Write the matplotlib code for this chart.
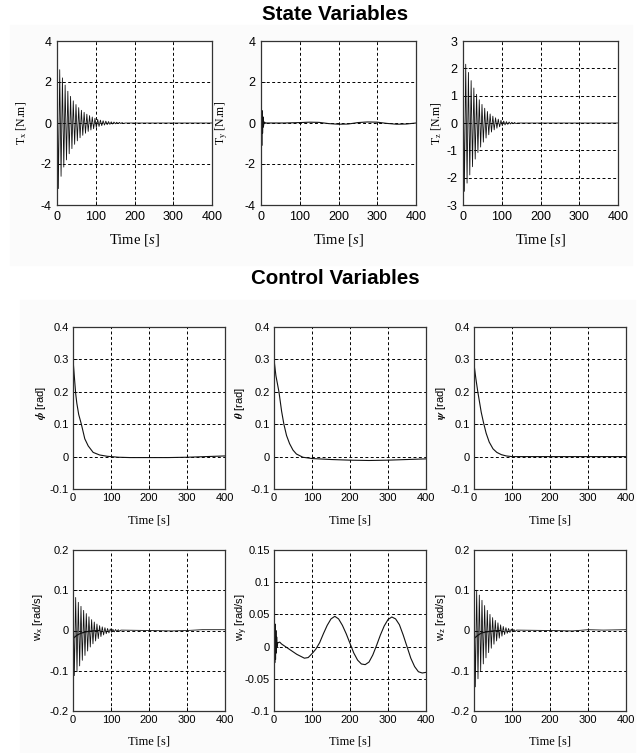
import numpy as np
import matplotlib
matplotlib.use("Agg")
import matplotlib.pyplot as plt
from matplotlib.patches import Rectangle

plt.rcParams['font.family'] = ['Liberation Sans', 'DejaVu Sans']
plt.rcParams['mathtext.fontset'] = 'custom'
plt.rcParams['mathtext.rm'] = 'Liberation Serif'
plt.rcParams['mathtext.it'] = 'Liberation Serif:italic'
plt.rcParams['mathtext.bf'] = 'Liberation Serif:bold'

# ---- data ----
time_ticks = [0, 100, 200, 300, 400]
time_labels = ['0', '100', '200', '300', '400']

# state variables: oscillation peaks (upper every 7 s from t=0, lower 3.5 s later)
tx_up = [2.9, 2.6, 2.2, 1.85, 1.55, 1.3, 1.08, 0.9, 0.75, 0.62, 0.52, 0.43, 0.36,
         0.29, 0.23, 0.18, 0.14, 0.11, 0.09, 0.07, 0.055, 0.045, 0.035, 0.03, 0.02]
tx_lo = [-3.2, -2.6, -2.15, -1.8, -1.5, -1.25, -1.04, -0.87, -0.72, -0.6, -0.5, -0.41, -0.34,
         -0.28, -0.22, -0.17, -0.13, -0.1, -0.08, -0.065, -0.05, -0.04, -0.03, -0.025, -0.02]
tx_tail_t = [176, 250, 400]
tx_tail = [0.0, 0.0, 0.0]

ty_t = [0, 1, 2, 3, 4, 5, 6, 8, 12, 30, 60, 100, 125, 150, 175, 200, 225,
        250, 275, 300, 325, 350, 375, 400]
ty = [0.0, 0.8, -1.1, 0.6, -0.5, 0.3, -0.2, 0.05, 0.0, 0.0, 0.0, 0.02, 0.04, 0.03,
      -0.03, -0.06, -0.05, 0.02, 0.05, 0.04, -0.02, -0.06, -0.05, 0.0]

tz_up = [2.4, 2.15, 1.85, 1.55, 1.28, 1.05, 0.85, 0.68, 0.54, 0.42, 0.33, 0.25,
         0.19, 0.14, 0.1, 0.07, 0.05, 0.035, 0.025, 0.02]
tz_lo = [-2.5, -2.2, -1.9, -1.6, -1.32, -1.08, -0.88, -0.7, -0.55, -0.43, -0.33, -0.25,
         -0.19, -0.14, -0.1, -0.07, -0.05, -0.035, -0.025, -0.02]
tz_tail_t = [141, 250, 400]
tz_tail = [0.0, 0.0, 0.0]

# control variables: attitude angles
phi_t = [0, 2, 4, 7, 10, 15, 22, 31, 40, 53, 70, 90, 120, 150, 200, 250, 300, 350, 400]
phi = [0.3, 0.27, 0.24, 0.195, 0.165, 0.13, 0.1, 0.055, 0.033, 0.013, 0.005, 0.001,
       -0.002, -0.003, -0.003, -0.003, -0.002, 0.0, 0.002]
theta_t = [0, 5, 13, 20, 26, 33, 41, 50, 59, 76, 100, 150, 200, 250, 300, 350, 400]
theta = [0.3, 0.25, 0.2, 0.14, 0.1, 0.065, 0.04, 0.02, 0.008, -0.002, -0.006, -0.009,
         -0.011, -0.012, -0.011, -0.009, -0.007]
psi_t = [0, 5, 10, 19, 25, 32, 40, 50, 60, 72, 85, 100, 200, 300, 400]
psi = [0.285, 0.24, 0.2, 0.137, 0.105, 0.072, 0.045, 0.024, 0.013, 0.006, 0.002,
       0.0, 0.0, 0.0, 0.0]

# angular rates
wx_up = [0.093, 0.082, 0.07, 0.06, 0.05, 0.042, 0.034, 0.027, 0.021, 0.016, 0.012,
         0.009, 0.007, 0.005, 0.004, 0.003, 0.0025, 0.002]
wx_lo = [-0.112, -0.1, -0.088, -0.074, -0.062, -0.051, -0.041, -0.033, -0.026, -0.02,
         -0.015, -0.011, -0.008, -0.006, -0.0045, -0.0035, -0.0025, -0.002]
wx_mid_t = [0, 10, 20, 35, 50, 70]
wx_mid = [-0.02, -0.012, -0.007, -0.003, -0.001, 0.0]
wx_tail_t = [126, 200, 260, 300, 340, 400]
wx_tail = [0.001, 0.0, -0.001, 0.0, 0.002, 0.002]

wy_t = [0, 1, 2, 3, 4, 5, 6, 7, 8, 10, 15, 20, 30, 40, 50, 60, 70, 80, 90, 100,
        110, 120, 130, 140, 150, 160, 170, 180, 190, 200, 210, 220, 230, 240, 250,
        260, 270, 280, 290, 300, 310, 320, 330, 340, 350, 360, 370, 380, 390, 400]
wy = [0.0, 0.042, -0.025, 0.035, -0.02, 0.025, -0.01, 0.015, 0.0, 0.006, 0.007, 0.004,
      0.0, -0.004, -0.008, -0.012, -0.015, -0.018, -0.017, -0.011, -0.004, 0.006, 0.02,
      0.033, 0.043, 0.047, 0.043, 0.033, 0.02, 0.005, -0.01, -0.021, -0.027, -0.028,
      -0.024, -0.013, 0.002, 0.018, 0.032, 0.042, 0.046, 0.043, 0.034, 0.018, 0.0,
      -0.018, -0.031, -0.039, -0.041, -0.04]

wz_up = [0.11, 0.1, 0.088, 0.075, 0.062, 0.05, 0.04, 0.032, 0.025, 0.019, 0.014,
         0.01, 0.007, 0.005, 0.0035, 0.0025]
wz_lo = [-0.14, -0.12, -0.1, -0.083, -0.068, -0.055, -0.044, -0.034, -0.026, -0.019,
         -0.014, -0.01, -0.007, -0.005, -0.0035, -0.0025]
wz_mid_t = [0, 10, 20, 35, 50, 70]
wz_mid = [-0.02, -0.012, -0.006, -0.003, -0.001, 0.0]
wz_tail_t = [112, 200, 260, 300, 340, 400]
wz_tail = [0.001, 0.0, -0.001, 0.002, 0.001, 0.002]


def zigzag(up, lo, step=3.5):
    v = np.empty(len(up) + len(lo))
    v[0::2] = up
    v[1::2] = lo
    return np.arange(len(v)) * step, v


fig = plt.figure(figsize=(6.4, 7.53), dpi=100)
W, H = 640, 753
fig.patches.append(Rectangle((10 / W, 1 - 265 / H), 622 / W, 240 / H,
                             transform=fig.transFigure, color='#fbfbfb', zorder=-10))
fig.patches.append(Rectangle((20 / W, 0), 615 / W, 1 - 300 / H,
                             transform=fig.transFigure, color='#fbfbfb', zorder=-10))


def make_ax(left, top, w, h):
    return fig.add_axes([left / W, 1 - (top + h) / H, w / W, h / H])


def style(ax, yticks, ylabels, tick_fs, tick_font, pad):
    ax.set_xlim(0, 400)
    ax.set_ylim(yticks[0], yticks[-1])
    ax.set_xticks(time_ticks)
    ax.set_xticklabels(time_labels, fontsize=tick_fs, family=tick_font)
    ax.set_yticks(yticks)
    ax.set_yticklabels(ylabels, fontsize=tick_fs, family=tick_font)
    ax.tick_params(direction='in', length=3, width=0.6, pad=pad)
    ax.grid(True, color='black', linestyle=(0, (3, 2.5)), linewidth=0.7)
    for s in ax.spines.values():
        s.set_linewidth(0.9)
        s.set_color('#333333')
    ax.set_facecolor('white')


lc = '#111111'

# ---- State Variables ----
fig.text(335 / W, 1 - 14 / H, 'State Variables', ha='center', va='center',
         fontsize=14.8, fontweight='bold')

top_lefts = [57, 261, 463]
t_specs = [
    ([-4, -2, 0, 2, 4], ['-4', '-2', '0', '2', '4'], r'$\mathregular{T_x}$ [N.m]', -0.18),
    ([-4, -2, 0, 2, 4], ['-4', '-2', '0', '2', '4'], r'$\mathregular{T_y}$ [N.m]', -0.2),
    ([-3, -2, -1, 0, 1, 2, 3], ['-3', '-2', '-1', '0', '1', '2', '3'], r'$\mathregular{T_z}$ [N.m]', -0.12),
]
top_axes = []
for left, (yt, yl, lab, lx) in zip(top_lefts, t_specs):
    ax = make_ax(left, 41, 155, 164)
    style(ax, yt, yl, 9, 'Liberation Sans', 4)
    ax.set_ylabel(lab, family='Liberation Serif', fontsize=8.5)
    ax.yaxis.set_label_coords(lx, 0.5)
    ax.set_xlabel(r'Time [$\mathit{s}$]', family='Liberation Serif', fontsize=10.5)
    ax.xaxis.set_label_coords(0.5, -0.165)
    top_axes.append(ax)

t, v = zigzag(tx_up, tx_lo)
top_axes[0].plot(np.r_[t, tx_tail_t], np.r_[v, tx_tail], color=lc, lw=0.6)
top_axes[1].plot(ty_t, ty, color=lc, lw=0.8)
t, v = zigzag(tz_up, tz_lo)
top_axes[2].plot(np.r_[t, tz_tail_t], np.r_[v, tz_tail], color=lc, lw=0.6)

# ---- Control Variables ----
fig.text(335 / W, 1 - 278 / H, 'Control Variables', ha='center', va='center',
         fontsize=14.8, fontweight='bold')

ang_ticks = [-0.1, 0, 0.1, 0.2, 0.3, 0.4]
ang_labels = ['-0.1', '0', '0.1', '0.2', '0.3', '0.4']
ang_data = [(phi_t, phi, r'$\boldsymbol{\phi}$ [rad]', -0.165),
            (theta_t, theta, r'$\boldsymbol{\theta}$ [rad]', -0.178),
            (psi_t, psi, r'$\boldsymbol{\psi}$ [rad]', -0.171)]
mid_lefts = [73, 274, 474]
for left, (xt, yv, lab, lx) in zip(mid_lefts, ang_data):
    ax = make_ax(left, 327, 152, 162)
    style(ax, ang_ticks, ang_labels, 8, 'Liberation Sans', 3)
    ax.plot(xt, yv, color=lc, lw=0.8)
    ax.set_ylabel(lab, fontsize=8, math_fontfamily='stix')
    ax.yaxis.set_label_coords(lx, 0.53)
    ax.set_xlabel('Time [s]', family='Liberation Serif', fontsize=9)
    ax.xaxis.set_label_coords(0.5, -0.16)

rate_ticks = [-0.2, -0.1, 0, 0.1, 0.2]
rate_labels = ['-0.2', '-0.1', '0', '0.1', '0.2']
wy_ticks = [-0.1, -0.05, 0, 0.05, 0.1, 0.15]
wy_labels = ['-0.1', '-0.05', '0', '0.05', '0.1', '0.15']

bot_specs = [(rate_ticks, rate_labels, r'$\mathregular{w_x}$ [rad/s]', -0.184),
             (wy_ticks, wy_labels, r'$\mathregular{w_y}$ [rad/s]', -0.158),
             (rate_ticks, rate_labels, r'$\mathregular{w_z}$ [rad/s]', -0.171)]
bot_axes = []
for left, (yt, yl, lab, lx) in zip(mid_lefts, bot_specs):
    ax = make_ax(left, 550, 152, 161)
    style(ax, yt, yl, 8, 'Liberation Sans', 3)
    ax.set_ylabel(lab, fontsize=8)
    ax.yaxis.set_label_coords(lx, 0.58)
    ax.set_xlabel('Time [s]', family='Liberation Serif', fontsize=9)
    ax.xaxis.set_label_coords(0.5, -0.155)
    bot_axes.append(ax)

t, v = zigzag(wx_up, wx_lo)
bot_axes[0].plot(np.r_[t, wx_tail_t], np.r_[v, wx_tail], color=lc, lw=0.6)
bot_axes[0].plot(wx_mid_t, wx_mid, color=lc, lw=0.9)
bot_axes[1].plot(wy_t, wy, color=lc, lw=0.8)
t, v = zigzag(wz_up, wz_lo)
bot_axes[2].plot(np.r_[t, wz_tail_t], np.r_[v, wz_tail], color=lc, lw=0.6)
bot_axes[2].plot(wz_mid_t, wz_mid, color=lc, lw=0.9)

fig.savefig('out.png', dpi=100)
